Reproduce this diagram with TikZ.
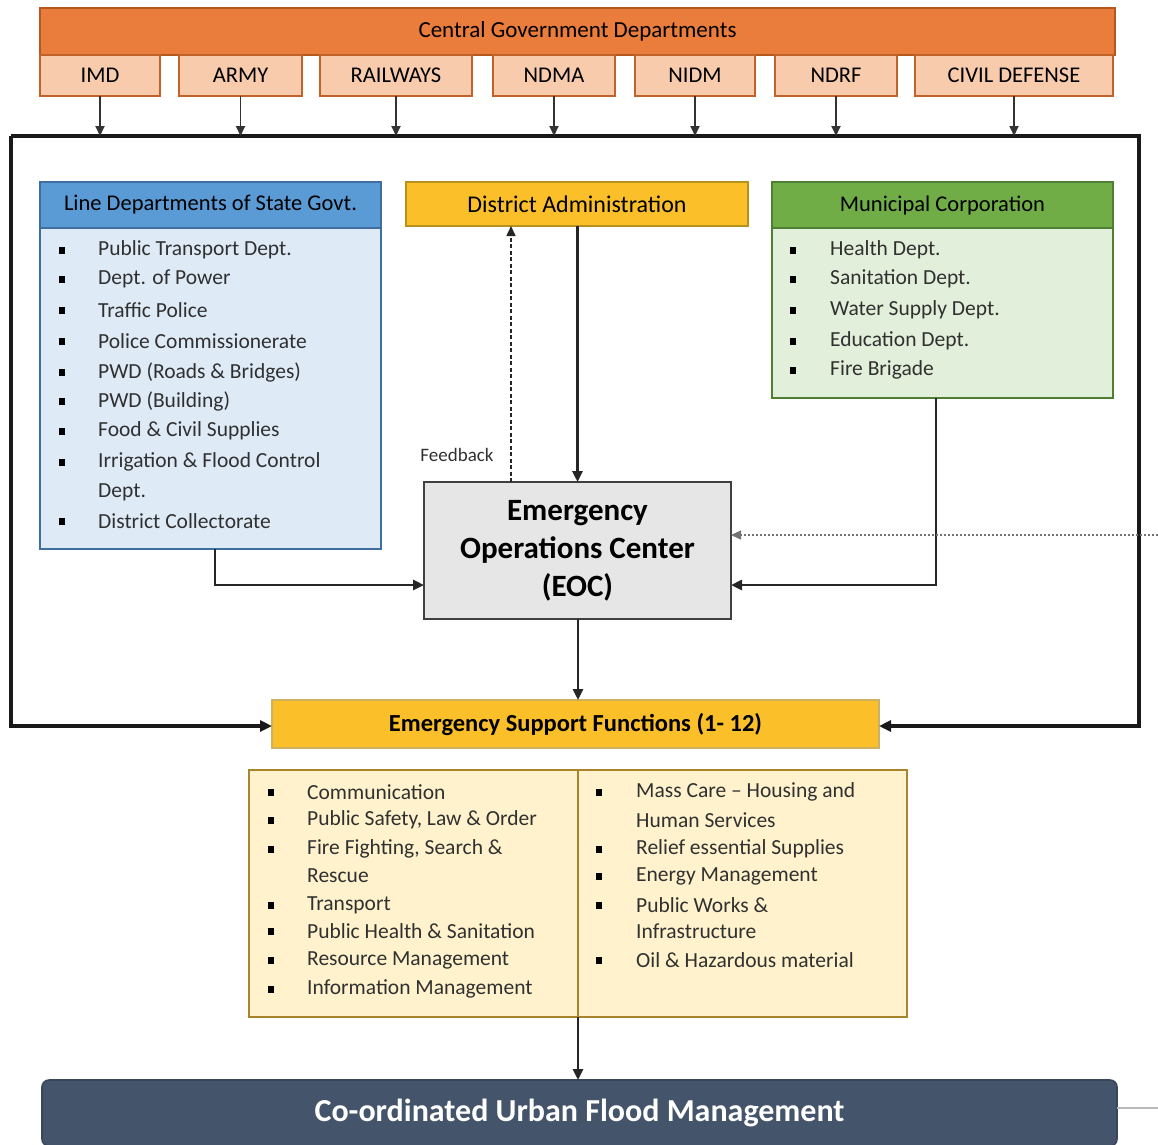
\documentclass[tikz,border=0pt]{standalone}
\usepackage{fontspec}
\setmainfont{Carlito}
\usetikzlibrary{arrows.meta}
\definecolor{cgorange}{HTML}{EA7C3C}
\definecolor{cgborder}{HTML}{B5581E}
\definecolor{subfill}{HTML}{F7CBAC}
\definecolor{subborder}{HTML}{C0622A}
\definecolor{bluehdr}{HTML}{5B9BD5}
\definecolor{blueborder}{HTML}{3F6F9E}
\definecolor{bluebody}{HTML}{DEEBF7}
\definecolor{yel}{HTML}{FBBF2A}
\definecolor{yelborder}{HTML}{B8901C}
\definecolor{greenhdr}{HTML}{70AD47}
\definecolor{greenborder}{HTML}{4F7F32}
\definecolor{greenbody}{HTML}{E2EFDA}
\definecolor{eocfill}{HTML}{E6E6E6}
\definecolor{esflist}{HTML}{FFF2CC}
\definecolor{esfborder}{HTML}{A8852A}
\definecolor{slate}{HTML}{44546A}
\definecolor{txt}{HTML}{303030}
\begin{document}
\begin{tikzpicture}[x=1pt,y=-1pt,
  box/.style={draw, line width=1.6pt, inner sep=0pt, outer sep=0pt, anchor=north west, text=black},
  hfont/.style={font=\fontsize{22.5}{26}\selectfont},
  subbox/.style={box, fill=subfill, draw=subborder, minimum height=41, font=\fontsize{22.5}{26}\selectfont},
  conn/.style={line width=2.8pt, draw=black!85, -{Triangle[length=11pt,width=10pt]}},
  thinconn/.style={line width=1.8pt, draw=black!80, -{Triangle[length=10pt,width=9pt]}},
  item/.style={anchor=west, inner sep=0pt, font=\fontsize{21.5}{25}\selectfont, text=txt},
  bul/.style={fill=black}
]
\useasboundingbox (0,0) rectangle (1158,1144);

% Central government
\node[box, fill=cgorange, draw=cgborder, minimum width=1075, minimum height=47, font=\fontsize{23}{27}\selectfont] (cgd) at (40,8) {Central Government Departments};
\node[subbox, minimum width=120] (imd) at (40,55) {IMD};
\node[subbox, minimum width=123] (army) at (179,55) {ARMY};
\node[subbox, minimum width=152] (rail) at (320,55) {RAILWAYS};
\node[subbox, minimum width=122] (ndma) at (493,55) {NDMA};
\node[subbox, minimum width=120] (nidm) at (635,55) {NIDM};
\node[subbox, minimum width=122] (ndrf) at (775,55) {NDRF};
\node[subbox, minimum width=198] (civil) at (915,55) {CIVIL DEFENSE};

% frame corners
\coordinate (ftl) at (11,136);
\coordinate (ftr) at (1139,136);
\coordinate (fbl) at (11,726);
\coordinate (fbr) at (1139,726);

% Line departments
\node[box, fill=bluehdr, draw=blueborder, minimum width=341, minimum height=46, hfont] (ldh) at (40,182) {Line Departments of State Govt.};
\node[box, fill=bluebody, draw=blueborder, minimum width=341, minimum height=321] (ldb) at (40,228) {};
\foreach \yy in {250,279,310,341,372,401,431,462,521}{
  \fill[bul] (59,\yy-3.5) rectangle ++(6,7);
}
\node[item] (ld1) at (98,250) {Public Transport Dept.};
\node[item] (ld2) at (98,279) {Dept. of Power};
\node[item] (ld3) at (98,310) {Traffic Police};
\node[item] (ld4) at (98,341) {Police Commissionerate};
\node[item] (ld5) at (98,372) {PWD (Roads \& Bridges)};
\node[item] (ld6) at (98,401) {PWD (Building)};
\node[item] (ld7) at (98,431) {Food \& Civil Supplies};
\node[item] (ld8) at (98,462) {Irrigation \& Flood Control};
\node[item] (ld8b) at (98,492) {Dept.};
\node[item] (ld9) at (98,521) {District Collectorate};

% District administration
\node[box, fill=yel, draw=yelborder, minimum width=342, minimum height=44, font=\fontsize{24}{28}\selectfont] (da) at (406,182) {District Administration};

% Municipal corporation
\node[box, fill=greenhdr, draw=greenborder, minimum width=341, minimum height=46, hfont] (mch) at (772,182) {Municipal Corporation};
\node[box, fill=greenbody, draw=greenborder, minimum width=341, minimum height=170] (mcb) at (772,228) {};
\foreach \yy in {250,279,310,341,370}{
  \fill[bul] (790,\yy-3.5) rectangle ++(6,7);
}
\node[item] (mc1) at (830,250) {Health Dept.};
\node[item] (mc2) at (830,279) {Sanitation Dept.};
\node[item] (mc3) at (830,310) {Water Supply Dept.};
\node[item] (mc4) at (830,341) {Education Dept.};
\node[item] (mc5) at (830,370) {Fire Brigade};

% EOC
\node[box, fill=eocfill, draw=black!75, minimum width=307, minimum height=137] (eoc) at (424,482) {};
\node[align=center, inner sep=0pt, font=\bfseries\fontsize{31}{38}\selectfont] (eoct) at (eoc.center) {Emergency\\Operations Center\\(EOC)};
\node[anchor=center, inner sep=0pt, font=\fontsize{19}{22}\selectfont, text=txt] (fb) at (457,455) {Feedback};

% ESF
\node[box, fill=yel, draw=yelborder!70, minimum width=607, minimum height=48, font=\bfseries\fontsize{24.5}{28}\selectfont] (esf) at (272,700) {Emergency Support Functions (1- 12)};
\node[box, fill=esflist, draw=esfborder, minimum width=658, minimum height=247] (esfl) at (249,770) {};
\draw[esfborder, line width=1.6pt] (esfl.north) -- (esfl.south);
\foreach \yy in {792,820,849,905,931,960,989}{
  \fill[bul] (268,\yy-3.5) rectangle ++(6,7);
}
\foreach \yy in {792,849,876,905,960}{
  \fill[bul] (596,\yy-3.5) rectangle ++(6,7);
}
\node[item] (e1) at (307,792) {Communication};
\node[item] (e2) at (307,820) {Public Safety, Law \& Order};
\node[item] (e3) at (307,849) {Fire Fighting, Search \&};
\node[item] (e3b) at (307,876) {Rescue};
\node[item] (e4) at (307,905) {Transport};
\node[item] (e5) at (307,931) {Public Health \& Sanitation};
\node[item] (e6) at (307,960) {Resource Management};
\node[item] (e7) at (307,989) {Information Management};
\node[item] (r1) at (636,792) {Mass Care -- Housing and};
\node[item] (r1b) at (636,820) {Human Services};
\node[item] (r2) at (636,849) {Relief essential Supplies};
\node[item] (r3) at (636,876) {Energy Management};
\node[item] (r4) at (636,905) {Public Works \&};
\node[item] (r4b) at (636,931) {Infrastructure};
\node[item] (r5) at (636,960) {Oil \& Hazardous material};

% Final box
\node[box, rounded corners=7pt, fill=slate, draw=slate!85!black, minimum width=1075, minimum height=66, text=white, font=\bfseries\fontsize{32}{36}\selectfont] (cufm) at (42,1080) {Co-ordinated Urban Flood Management};
\coordinate (gl) at (1158,1108);
\draw[gray!55, line width=1.3pt] (cufm.east |- gl) -- (gl);

% frame and connectors
\draw[line width=3.6pt, draw=black!90, line join=miter, -{Triangle[length=12pt,width=11pt]}] (ftl) -- (fbl) -- (esf.west |- fbl);
\draw[line width=3.6pt, draw=black!90, line join=miter, -{Triangle[length=12pt,width=11pt]}] (ftl) -- (ftr) -- (fbr) -- (esf.east |- fbr);
\foreach \n in {imd,army,rail,ndma,nidm,ndrf,civil}{
  \draw[thinconn] (\n.south) -- (\n.south |- ftl);
}
\draw[conn] (da.south -| eoc.north) -- (eoc.north);
\coordinate (fbx) at (511,0);
\draw[line width=1.5pt, draw=black!85, dash pattern=on 4pt off 2.5pt, -{Triangle[length=10pt,width=9pt]}] (eoc.north -| fbx) -- (da.south -| fbx);
\coordinate (ldx) at (215,585);
\draw[conn] (ldb.south -| ldx) |- (eoc.west |- ldx);
\coordinate (mcx) at (936,585);
\draw[conn] (mcb.south -| mcx) |- (eoc.east |- mcx);
\coordinate (dotsrc) at (1158,535);
\draw[line width=1.4pt, draw=black!55, dash pattern=on 2pt off 2pt, -{Triangle[length=10pt,width=9pt]}] (dotsrc) -- (eoc.east |- dotsrc);
\coordinate (ex) at (578,0);
\draw[conn] (eoc.south -| ex) -- (esf.north -| ex);
\draw[conn] (esfl.south) -- (esfl.south |- cufm.north);
\end{tikzpicture}
\end{document}
